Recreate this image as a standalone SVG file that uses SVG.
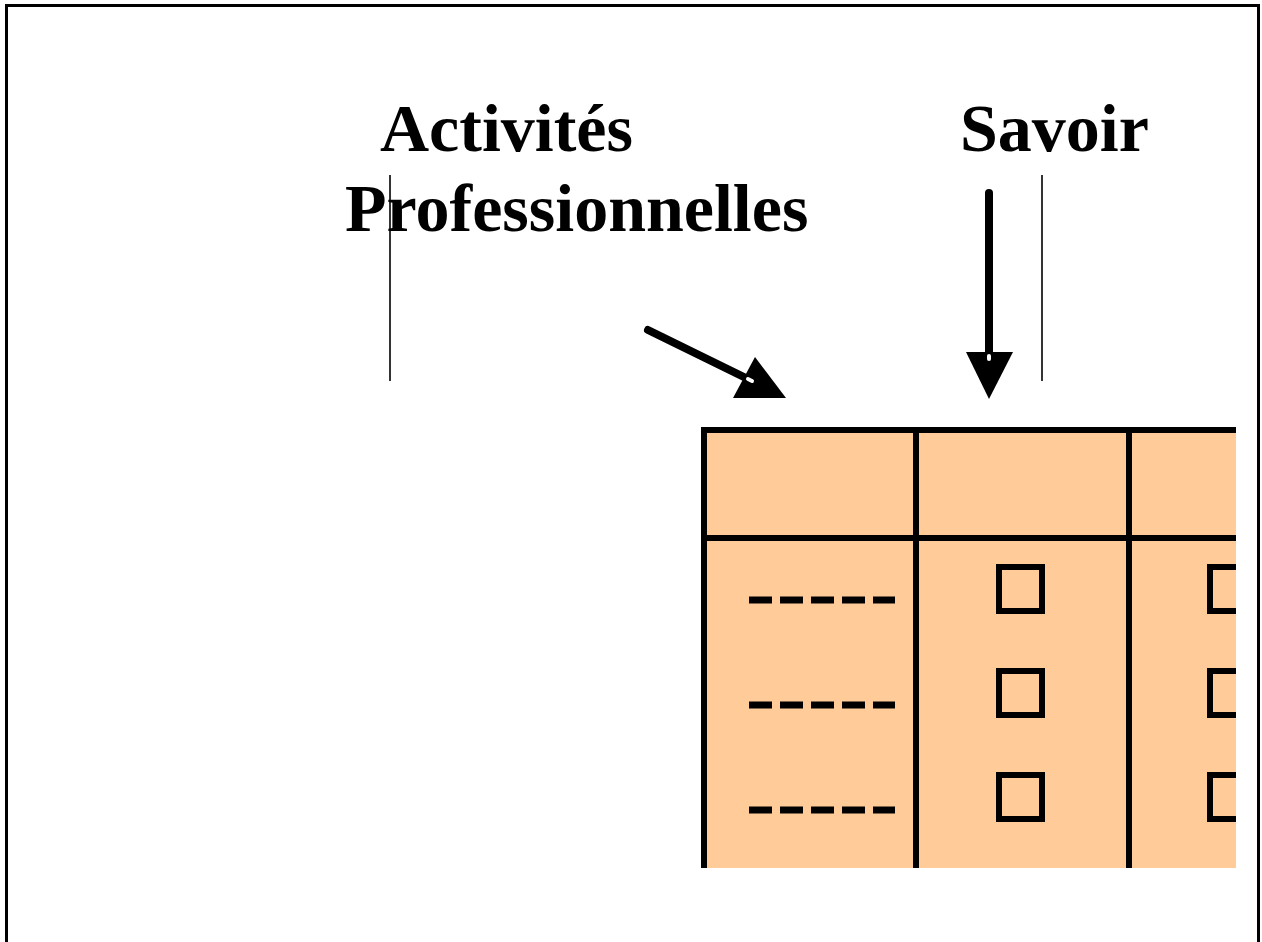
<svg xmlns="http://www.w3.org/2000/svg" width="1262" height="942" viewBox="0 0 1262 942">
<style>
.t{font-family:"Liberation Serif","Times New Roman",serif;font-weight:bold;font-size:68px;fill:#000}
.thin{stroke:#000;stroke-width:1.6;fill:none}
.grid{stroke:#000;stroke-width:6;fill:none}
.box{stroke:#000;stroke-width:6;fill:none}
.dash{stroke:#000;stroke-width:7;stroke-dasharray:23 8;fill:none}
.arr{stroke:#000;stroke-width:8;stroke-linecap:round;fill:none}
</style>
<defs>
<clipPath id="tc"><rect x="690" y="420" width="546" height="460"/></clipPath>
</defs>
<rect x="6.5" y="5.5" width="1252" height="960" fill="#fff" stroke="#000" stroke-width="3"/>
<g id="title-activites">
<text class="t" x="380" y="151">Activités</text>
<text class="t" x="345" y="231">Professionnelles</text>
</g>
<g id="title-savoir">
<text class="t" x="960" y="151">Savoir</text>
</g>
<g id="guides">
<line class="thin" x1="390" y1="175" x2="390" y2="381"/>
<line class="thin" x1="1042" y1="175" x2="1042" y2="381"/>
</g>
<g id="connectors">
<line class="arr" x1="648" y1="330" x2="750" y2="380"/>
<polygon points="755,357 786,398 733,398" fill="#000"/>
<line x1="748" y1="379" x2="752" y2="381" stroke="#fff" stroke-width="4" stroke-linecap="round"/>
<line class="arr" x1="989" y1="193" x2="989" y2="360"/>
<polygon points="966,352 1013,352 989,399" fill="#000"/>
<line x1="989" y1="356" x2="989" y2="359" stroke="#fff" stroke-width="4" stroke-linecap="round"/>
</g>
<g id="table" clip-path="url(#tc)">
<rect x="704" y="430" width="540" height="438" fill="#FFCC99"/>
<line class="grid" x1="701" y1="430" x2="1240" y2="430"/>
<line class="grid" x1="704" y1="427" x2="704" y2="868"/>
<line class="grid" x1="916" y1="430" x2="916" y2="868"/>
<line class="grid" x1="1129" y1="430" x2="1129" y2="868"/>
<line class="grid" x1="704" y1="538" x2="1240" y2="538"/>
<g id="row1">
<path class="dash" d="M749,600 H895"/>
<rect class="box" x="999" y="567" width="43" height="44"/>
<rect class="box" x="1210" y="567" width="43" height="44"/>
</g>
<g id="row2">
<path class="dash" d="M749,705 H895"/>
<rect class="box" x="999" y="671" width="43" height="44"/>
<rect class="box" x="1210" y="671" width="43" height="44"/>
</g>
<g id="row3">
<path class="dash" d="M749,810 H895"/>
<rect class="box" x="999" y="775" width="43" height="44"/>
<rect class="box" x="1210" y="775" width="43" height="44"/>
</g>
</g>
</svg>
